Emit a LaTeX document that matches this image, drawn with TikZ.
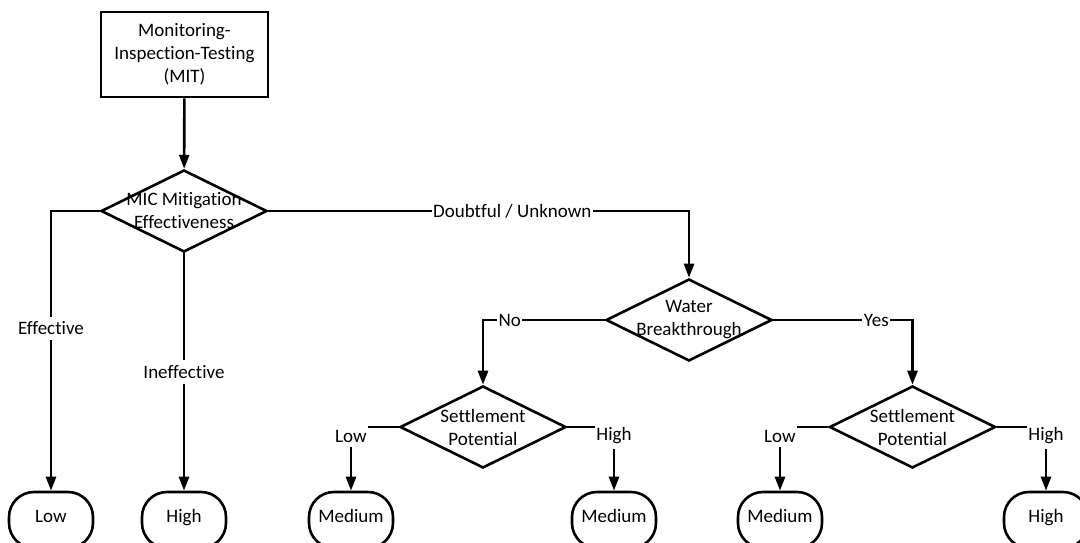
\documentclass[tikz,border=0pt]{standalone}
\usepackage{fontspec}
\setmainfont{Carlito}[Ligatures=CommonOff, RawFeature={-liga;-calt}]
\usetikzlibrary{shapes.geometric, arrows.meta}
\tikzset{
    flow/.style={line width=2.6pt, -{Triangle[length=14pt, width=10pt]}},
    process/.style={draw, line width=2.6pt, minimum width=167pt, minimum height=85pt, align=center},
    decision/.style={draw, diamond, line width=2.6pt, minimum width=166pt, minimum height=82pt, inner sep=0pt},
    terminal/.style={draw, line width=2.6pt, rounded corners=25pt, minimum width=84pt, minimum height=56pt, text height=0.66em, text depth=0.22em},
    edgelabel/.style={fill=white, inner xsep=1.5pt, inner ysep=5pt},
}

\begin{document}
\begin{tikzpicture}[x=1pt, y=-1pt, every node/.style={font=\fontsize{19}{23}\selectfont}]
            \useasboundingbox (0, 0) rectangle (1080, 542);
            \clip (0, 0) rectangle (1080, 542);

            \node[process] (mit) at (184.5, 54.5) {Monitoring-\\Inspection-Testing\\(MIT)};

            \node[decision] (mic) at (184, 211) {};
            \node[align=center] (mictext) at (mic) {MIC Mitigation\\Effectiveness};
            \node[decision] (water) at (689, 320) {};
            \node[align=center] (watertext) at (water) {Water\\Breakthrough};
            \node[decision] (settleA) at (483, 427) {};
            \node[align=center] (settleAtext) at (settleA) {Settlement\\Potential};
            \node[decision] (settleB) at (912.5, 427) {};
            \node[align=center] (settleBtext) at (settleB) {Settlement\\Potential};

            \node[terminal] (low) at (51, 520) {Low};
            \node[terminal] (highA) at (184, 520) {High};
            \node[terminal] (mediumA) at (351, 520) {Medium};
            \node[terminal] (mediumB) at (614, 520) {Medium};
            \node[terminal] (mediumC) at (780, 520) {Medium};
            \node[terminal] (highB) at (1046, 520) {High};

            \draw[flow] (mit) -- (mic);
            \draw[flow] (mic.west) -| node[edgelabel, pos=0.71] {Effective} (low.north);
            \draw[flow] (mic.south) -- node[edgelabel] {Ineffective} (highA.north);
            \draw[flow] (mic.east) -| node[edgelabel, pos=0.29] {Doubtful / Unknown} (water.north);

            \draw[flow] (water.west) -| node[edgelabel, pos=0.39] {No} (settleA.north);
            \draw[flow] (water.east) -| node[edgelabel, pos=0.37] {Yes} (settleB.north);

            \draw[flow] (settleA.west) -| node[edgelabel, pos=0.5, yshift=-9pt] {Low} (mediumA.north);
            \draw[flow] (settleA.east) -| node[edgelabel, pos=0.5, yshift=-9pt] {High} (mediumB.north);
            \draw[flow] (settleB.west) -| node[edgelabel, pos=0.5, yshift=-9pt] {Low} (mediumC.north);
            \draw[flow] (settleB.east) -| node[edgelabel, pos=0.5, yshift=-9pt] {High} (highB.north);

        \end{tikzpicture}
\end{document}
